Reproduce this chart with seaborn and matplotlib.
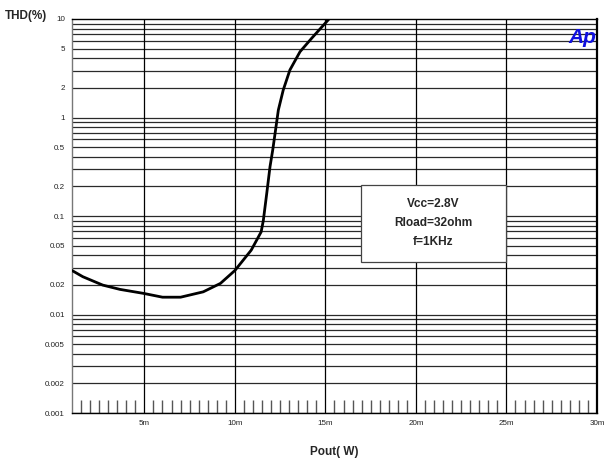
import numpy as np
import pandas as pd
import matplotlib
matplotlib.use('Agg')
import matplotlib.pyplot as plt
import matplotlib.ticker as mticker
from matplotlib.patches import Rectangle
import seaborn as sns

# ── Data ─────────────────────────────────────────────────────
pout_mw = [1.0, 1.6, 2.7, 3.65, 4.95, 6.0, 7.0, 8.25, 9.2, 10.0, 10.9,
           11.45, 11.57, 11.76, 11.94, 12.09, 12.22, 12.4, 12.67, 13.04,
           13.6, 14.24, 15.2]
thd_pct = [0.028, 0.0242, 0.0199, 0.018, 0.0164, 0.015, 0.015, 0.017,
           0.0207, 0.028, 0.045, 0.069, 0.09, 0.17, 0.317, 0.468, 0.69,
           1.19, 1.9, 3.04, 4.66, 6.37, 10.0]

x_ticks = [5, 10, 15, 20, 25, 30]
x_labels = ['5m', '10m', '15m', '20m', '25m', '30m']
y_ticks = [10, 5, 2, 1, 0.5, 0.2, 0.1, 0.05, 0.02, 0.01, 0.005, 0.002, 0.001]
y_labels = ['10', '5', '2', '1', '0.5', '0.2', '0.1', '0.05', '0.02',
            '0.01', '0.005', '0.002', '0.001']
info_lines = ['Vcc=2.8V', 'Rload=32ohm', 'f=1KHz']

df = pd.DataFrame({'pout': pout_mw, 'thd': thd_pct})

# ── Style ────────────────────────────────────────────────────
sns.set_style('white')
plt.rcParams['font.family'] = ['Liberation Sans', 'DejaVu Sans']

fig = plt.figure(figsize=(6.06, 4.61), dpi=100)
ax = fig.add_axes([0.1188, 0.104, 0.8662, 0.8548])

# horizontal grid at every log step
for dec in [0.001, 0.01, 0.1, 1]:
    for k in range(1, 10):
        ax.axhline(dec * k, color='#2a2a2a', lw=0.9, zorder=1)
for xv in x_ticks[:-1]:
    ax.axvline(xv, color='black', lw=0.9, zorder=1)

sns.lineplot(data=df, x='pout', y='thd', color='black', lw=2.0, ax=ax,
             zorder=3)

ax.set_yscale('log')
ax.set_xlim(1, 30)
ax.set_ylim(0.001, 10)

ax.set_xticks(x_ticks)
ax.set_xticklabels(x_labels)
ax.set_yticks(y_ticks)
ax.set_yticklabels(y_labels)
ax.yaxis.set_minor_locator(mticker.NullLocator())
ax.xaxis.set_minor_locator(mticker.FixedLocator(
    [v / 2 for v in range(3, 60) if v % 10 != 0]))
ax.tick_params(axis='both', which='major', length=0, labelsize=5.8,
               pad=5, colors='#222222')
ax.tick_params(axis='x', which='minor', direction='in', length=9.5,
               width=1.0, color='#555555', bottom=True)

ax.set_xlabel('Pout( W)', fontsize=8.5, fontweight='bold', labelpad=14)
ax.set_ylabel('')
fig.text(0.008, 0.965, 'THD(%)', fontsize=8.5, fontweight='bold',
         ha='left', va='center')

for side in ['left', 'bottom', 'top']:
    ax.spines[side].set_color('black')
    ax.spines[side].set_linewidth(1.0)
ax.spines['left'].set_color('#777777')
ax.spines['right'].set_color('black')
ax.spines['right'].set_linewidth(1.6)

# parameter box
ax.add_patch(Rectangle((0.5505, 0.383), 0.2762, 0.1957,
                       transform=ax.transAxes, facecolor='white',
                       edgecolor='#444444', lw=0.9, zorder=5))
ax.text(0.688, 0.482, '\n'.join(info_lines), transform=ax.transAxes,
        ha='center', va='center', fontsize=8.6, fontweight='bold',
        linespacing=1.75, zorder=6)

# Ap logo
ax.text(0.998, 0.952, 'Ap', transform=ax.transAxes, ha='right',
        va='center', fontsize=15, fontweight='heavy', style='italic',
        color='#1010e0', zorder=5)

fig.savefig('out.png', dpi=100)
